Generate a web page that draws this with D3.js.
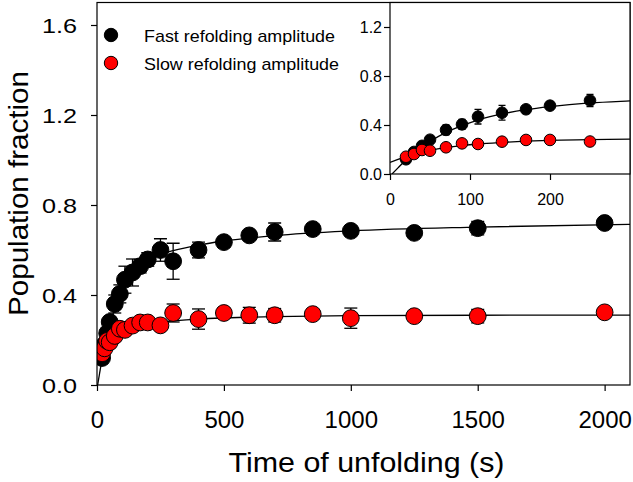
<!DOCTYPE html>
<html><head><meta charset="utf-8">
<script src="https://cdn.jsdelivr.net/npm/d3@7"></script>
<style>
body{margin:0;background:#fff}
text{font-family:"Liberation Sans",Arial,sans-serif;fill:#000}
</style>
</head><body>
<svg id="chart" width="633" height="482"></svg>
<script>
// ---------- data ----------
const times   = [20, 30, 40, 50, 70, 90, 110, 140, 170, 200, 250, 300, 400, 500, 600, 700, 850, 1000, 1250, 1500, 2000];
const fastAmp = [0.12, 0.18, 0.23, 0.28, 0.36, 0.405, 0.468, 0.50, 0.528, 0.558, 0.60, 0.55, 0.60, 0.635, 0.665, 0.68, 0.693, 0.685, 0.676, 0.697, 0.72];
const fastErr = [0.01, 0.01, 0.02, 0.02, 0.04, 0.04, 0.06, 0.06, 0.03, 0.03, 0.05, 0.08, 0.035, 0.02, 0.02, 0.04, 0.02, 0.02, 0.02, 0.03, 0.02];
const slowAmp = [0.141, 0.163, 0.196, 0.19, 0.218, 0.25, 0.245, 0.264, 0.278, 0.278, 0.265, 0.32, 0.293, 0.32, 0.31, 0.31, 0.315, 0.297, 0.306, 0.306, 0.323];
const slowErr = [0.01, 0.01, 0.01, 0.01, 0.01, 0.01, 0.01, 0.01, 0.01, 0.01, 0.01, 0.04, 0.045, 0.02, 0.035, 0.03, 0.02, 0.045, 0.02, 0.03, 0.02];

// fitted curves
const fastFitT = [2.5, 10, 20, 30, 50, 70, 90, 110, 140, 170, 200, 250, 300, 400, 500, 700, 1000, 1500, 2100];
const fastFitV = [0, 0.05, 0.115, 0.17, 0.265, 0.34, 0.395, 0.44, 0.49, 0.525, 0.55, 0.58, 0.597, 0.622, 0.64, 0.664, 0.685, 0.702, 0.714];
const slowFitT = [0, 10, 20, 30, 50, 70, 90, 110, 140, 170, 200, 250, 300, 400, 500, 700, 1000, 1500, 2100];
const slowFitV = [0.095, 0.12, 0.142, 0.162, 0.192, 0.215, 0.232, 0.245, 0.258, 0.268, 0.275, 0.28, 0.285, 0.293, 0.298, 0.304, 0.308, 0.31, 0.311];

const mainXTicks  = [0, 500, 1000, 1500, 2000];
const mainYTicks  = [0, 0.4, 0.8, 1.2, 1.6];
const insetXTicks = [0, 100, 200];
const insetYTicks = [0, 0.4, 0.8, 1.2];
const seriesNames = ["Fast refolding amplitude", "Slow refolding amplitude"];
const seriesColors = ["#000000", "#ff0000"];
const xTitle = "Time of unfolding (s)";
const yTitle = "Population fraction";

// ---------- build series ----------
const fastPts = times.map((t, i) => ({t, v: fastAmp[i], e: fastErr[i]}));
const slowPts = times.map((t, i) => ({t, v: slowAmp[i], e: slowErr[i]}));
const fastFit = fastFitT.map((t, i) => ({t, v: fastFitV[i]}));
const slowFit = slowFitT.map((t, i) => ({t, v: slowFitV[i]}));

const svg = d3.select("#chart");
svg.append("rect").attr("width", 633).attr("height", 482).attr("fill", "#fff");
const defs = svg.append("defs");

function stretch(sel, len) {
  sel.each(function () {
    const w = this.getComputedTextLength();
    d3.select(this).attr("textLength", len != null ? len : w * 1.2).attr("lengthAdjust", "spacingAndGlyphs");
  });
}

function panel(opt) {
  const x = d3.scaleLinear().domain(opt.xDom).range([opt.x0, opt.x1]);
  const y = d3.scaleLinear().domain(opt.yDom).range([opt.y1, opt.y0]);
  const g = svg.append("g");
  if (opt.bg) g.append("rect").attr("x", opt.x0).attr("y", opt.y0)
      .attr("width", opt.x1 - opt.x0).attr("height", opt.y1 - opt.y0).attr("fill", "#fff");
  defs.append("clipPath").attr("id", opt.id).append("rect")
    .attr("x", opt.x0).attr("y", opt.y0).attr("width", opt.x1 - opt.x0).attr("height", opt.y1 - opt.y0);
  const pg = g.append("g").attr("clip-path", `url(#${opt.id})`);

  const line = d3.line().x(d => x(d.t)).y(d => y(d.v)).curve(d3.curveMonotoneX);
  [fastFit, slowFit].forEach(f => pg.append("path").attr("d", line(f))
    .attr("fill", "none").attr("stroke", "#000").attr("stroke-width", 1.3));

  [fastPts, slowPts].forEach((pts, si) => {
    const data = pts.filter(d => d.t <= opt.maxT);
    const eb = pg.append("g").attr("stroke", "#000").attr("stroke-width", 1.3);
    data.forEach(d => {
      const cx = x(d.t), ya = y(d.v + d.e), yb = y(d.v - d.e), c = opt.cap;
      eb.append("line").attr("x1", cx).attr("x2", cx).attr("y1", ya).attr("y2", yb);
      eb.append("line").attr("x1", cx - c).attr("x2", cx + c).attr("y1", ya).attr("y2", ya);
      eb.append("line").attr("x1", cx - c).attr("x2", cx + c).attr("y1", yb).attr("y2", yb);
    });
    pg.append("g").selectAll("circle").data(data).join("circle")
      .attr("cx", d => x(d.t)).attr("cy", d => y(d.v)).attr("r", opt.r)
      .attr("fill", seriesColors[si]).attr("stroke", "#000").attr("stroke-width", 1);
  });

  // frame
  g.append("rect").attr("x", opt.x0).attr("y", opt.y0)
    .attr("width", opt.x1 - opt.x0).attr("height", opt.y1 - opt.y0)
    .attr("fill", "none").attr("stroke", "#000").attr("stroke-width", 1.2);

  const ax = g.append("g").attr("transform", `translate(0,${opt.y1})`)
    .call(d3.axisBottom(x).tickValues(opt.xTicks).tickFormat(d3.format("d")).tickSize(6).tickSizeOuter(0));
  const ay = g.append("g").attr("transform", `translate(${opt.x0},0)`)
    .call(d3.axisLeft(y).tickValues(opt.yTicks).tickFormat(d3.format(".1f")).tickSize(6).tickSizeOuter(0));
  [ax, ay].forEach(a => {
    a.select(".domain").remove();
    a.selectAll(".tick line").attr("stroke", "#000").attr("stroke-width", 1.2);
  });
  ax.selectAll("text").attr("font-size", opt.xfs).attr("dy", null).attr("y", opt.xLabY)
    .attr("font-family", '"Liberation Sans",Arial,sans-serif');
  ay.selectAll("text").attr("font-size", opt.yfs).attr("x", opt.yLabX).attr("dy", "0.36em")
    .attr("font-family", '"Liberation Sans",Arial,sans-serif');
  if (opt.yStretch) stretch(ay.selectAll("text"), null);
  return {x, y};
}

// main panel
panel({id: "clipMain", x0: 97, x1: 630, y0: 2.5, y1: 385, xDom: [0, 2100], yDom: [0, 1.7],
  xTicks: mainXTicks, yTicks: mainYTicks, r: 8.4, cap: 6.5, maxT: 2100,
  xfs: 24, yfs: 21, xLabY: 43, yLabX: -20, yStretch: true});

// inset panel
panel({id: "clipInset", x0: 390, x1: 630, y0: 2.5, y1: 174, xDom: [0, 300], yDom: [0, 1.4],
  xTicks: insetXTicks, yTicks: insetYTicks, r: 5.8, cap: 3.5, maxT: 250, bg: true,
  xfs: 16, yfs: 16, xLabY: 31, yLabX: -8, yStretch: false});

// legend
const lg = svg.append("g");
seriesNames.forEach((name, i) => {
  lg.append("circle").attr("cx", 111).attr("cy", 35 + i * 28).attr("r", 6.7)
    .attr("fill", seriesColors[i]).attr("stroke", "#000").attr("stroke-width", 1);
  lg.append("text").attr("x", 144).attr("y", 42 + i * 28).attr("font-size", 17)
    .attr("textLength", i === 0 ? 191 : 195).attr("lengthAdjust", "spacingAndGlyphs").text(name);
});

// axis titles
svg.append("text").attr("x", 366.5).attr("y", 472).attr("text-anchor", "middle")
  .attr("font-size", 28).attr("textLength", 276).attr("lengthAdjust", "spacingAndGlyphs").text(xTitle);
svg.append("text").attr("transform", "translate(27.5,193.5) rotate(-90)").attr("text-anchor", "middle")
  .attr("font-size", 28).attr("textLength", 245).attr("lengthAdjust", "spacingAndGlyphs").text(yTitle);
</script>
</body></html>
